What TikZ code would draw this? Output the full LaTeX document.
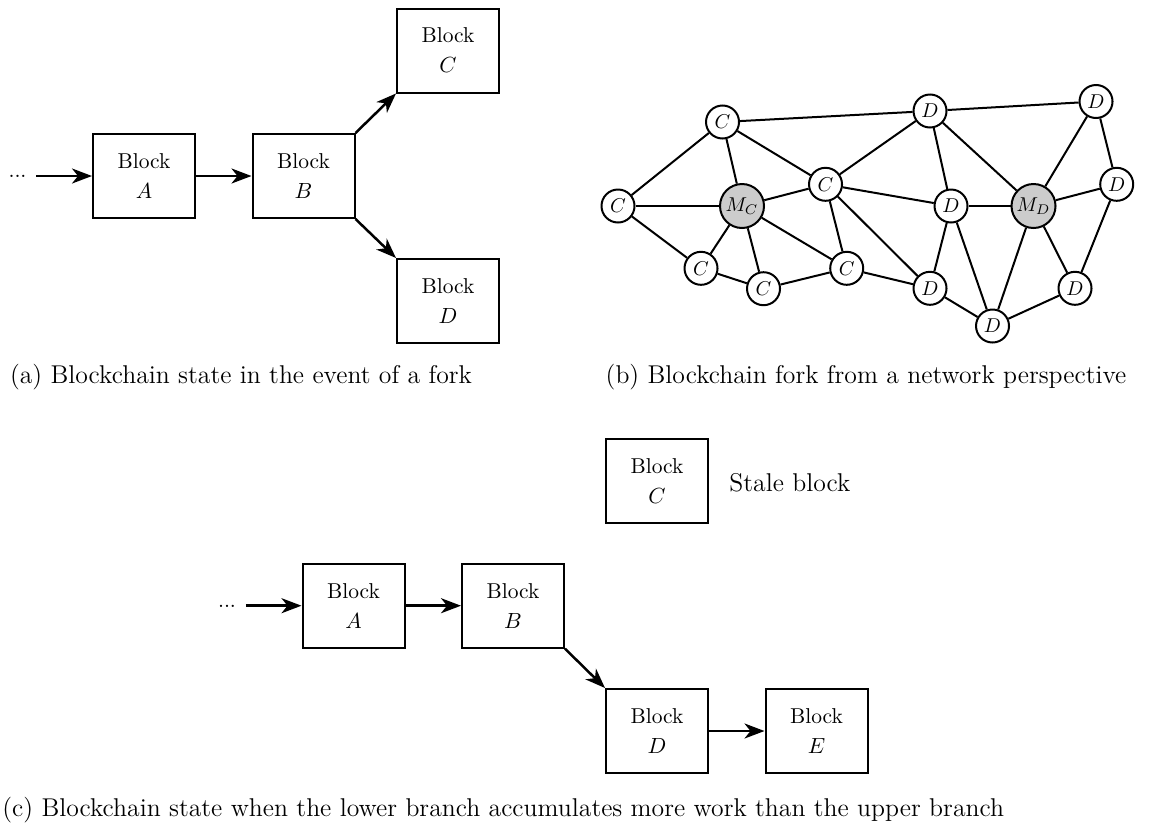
\documentclass[tikz,border=0pt]{standalone}
\usetikzlibrary{arrows.meta}
\tikzset{
  blk/.style={draw, line width=1pt, minimum width=51pt, minimum height=42pt,
    inner sep=0pt, align=center, font=\fontsize{10.75}{15}\selectfont},
  link/.style={line width=1.25pt, -{Stealth[length=10pt, width=7.5pt, inset=3pt]}},
  dotsnode/.style={inner xsep=4.75pt, inner ysep=0pt, font=\fontsize{10.75}{13}\selectfont},
  peer/.style={circle, draw, line width=1pt, fill=white, minimum size=16.5pt,
    inner sep=0pt, font=\fontsize{9.6}{11}\selectfont},
  miner/.style={peer, fill=black!20, minimum size=22pt},
  edge/.style={line width=1pt},
  capt/.style={inner sep=0pt, font=\fontsize{12.85}{15}\selectfont},
}
\begin{document}
\begin{tikzpicture}[x=0.5pt, y=-0.5pt]
\useasboundingbox (0,0) rectangle (1154,825);

% (a) chain with a fork after block B
\node[dotsnode] (da) at (17.5,176) {...};
\node[blk] (aA) at (144,176) {Block\\$A$};
\node[blk] (aB) at (303.5,176) {Block\\$B$};
\node[blk] (aC) at (448,50.5) {Block\\$C$};
\node[blk] (aD) at (448,301) {Block\\$D$};
\draw[link] (da.east |- aA.west) -- (aA.west);
\draw[link] (aA) -- (aB);
\draw[link] (aB.north east) -- (aC.south west);
\draw[link] (aB.south east) -- (aD.north west);
\node[capt, anchor=base] (capa) at (241,383) {(a) Blockchain state in the event of a fork};

% (b) peers holding C or D, with the two miners
\node[peer]  (c1) at (618,206) {$C$};
\node[peer]  (c2) at (722.5,122) {$C$};
\node[miner] (mc) at (742,206) {$M_C$};
\node[peer]  (c3) at (825.5,184.3) {$C$};
\node[peer]  (c4) at (701,268.3) {$C$};
\node[peer]  (c5) at (763.5,288.7) {$C$};
\node[peer]  (c6) at (846.7,268.3) {$C$};
\node[peer]  (d1) at (930,111) {$D$};
\node[peer]  (d2) at (951,206) {$D$};
\node[miner] (md) at (1033.5,206) {$M_D$};
\node[peer]  (d3) at (1096,101.5) {$D$};
\node[peer]  (d4) at (1116.7,184.3) {$D$};
\node[peer]  (d5) at (930,288.3) {$D$};
\node[peer]  (d6) at (992.5,326) {$D$};
\node[peer]  (d7) at (1075,288.3) {$D$};
\foreach \u/\v in {c2/d1, d1/d3, c2/c1, c2/mc, c2/c3, c1/mc, c1/c4, mc/c3,
                   mc/c4, mc/c5, mc/c6, c3/d1, c3/d2, c3/c6, c3/d5, c4/c5,
                   c5/c6, c6/d5, d1/d2, d1/md, d2/md, d2/d5, d2/d6, d5/d6,
                   md/d3, md/d4, md/d6, md/d7, d3/d4, d4/d7, d7/d6}
  \draw[edge] (\u) -- (\v);
\node[capt, anchor=base] (capb) at (866,383) {(b) Blockchain fork from a network perspective};

% legend
\node[blk] (lgC) at (657,481) {Block\\$C$};
\node[capt, anchor=base west] (lgtext) at (729,491.5) {Stale block};

% (c) the lower branch wins
\node[dotsnode] (dc) at (227,606) {...};
\node[blk] (cA) at (353.5,605.7) {Block\\$A$};
\node[blk] (cB) at (513,605.7) {Block\\$B$};
\node[blk] (cD) at (657,731) {Block\\$D$};
\node[blk] (cE) at (816.5,731) {Block\\$E$};
\draw[link] (dc.east |- cA.west) -- (cA.west);
\draw[link] (cA) -- (cB);
\draw[link] (cB.south east) -- (cD.north west);
\draw[link] (cD) -- (cE);
\node[capt, anchor=base west] (capc) at (2,816.5) {(c) Blockchain state when the lower branch accumulates more work than the upper branch};
\end{tikzpicture}
\end{document}
